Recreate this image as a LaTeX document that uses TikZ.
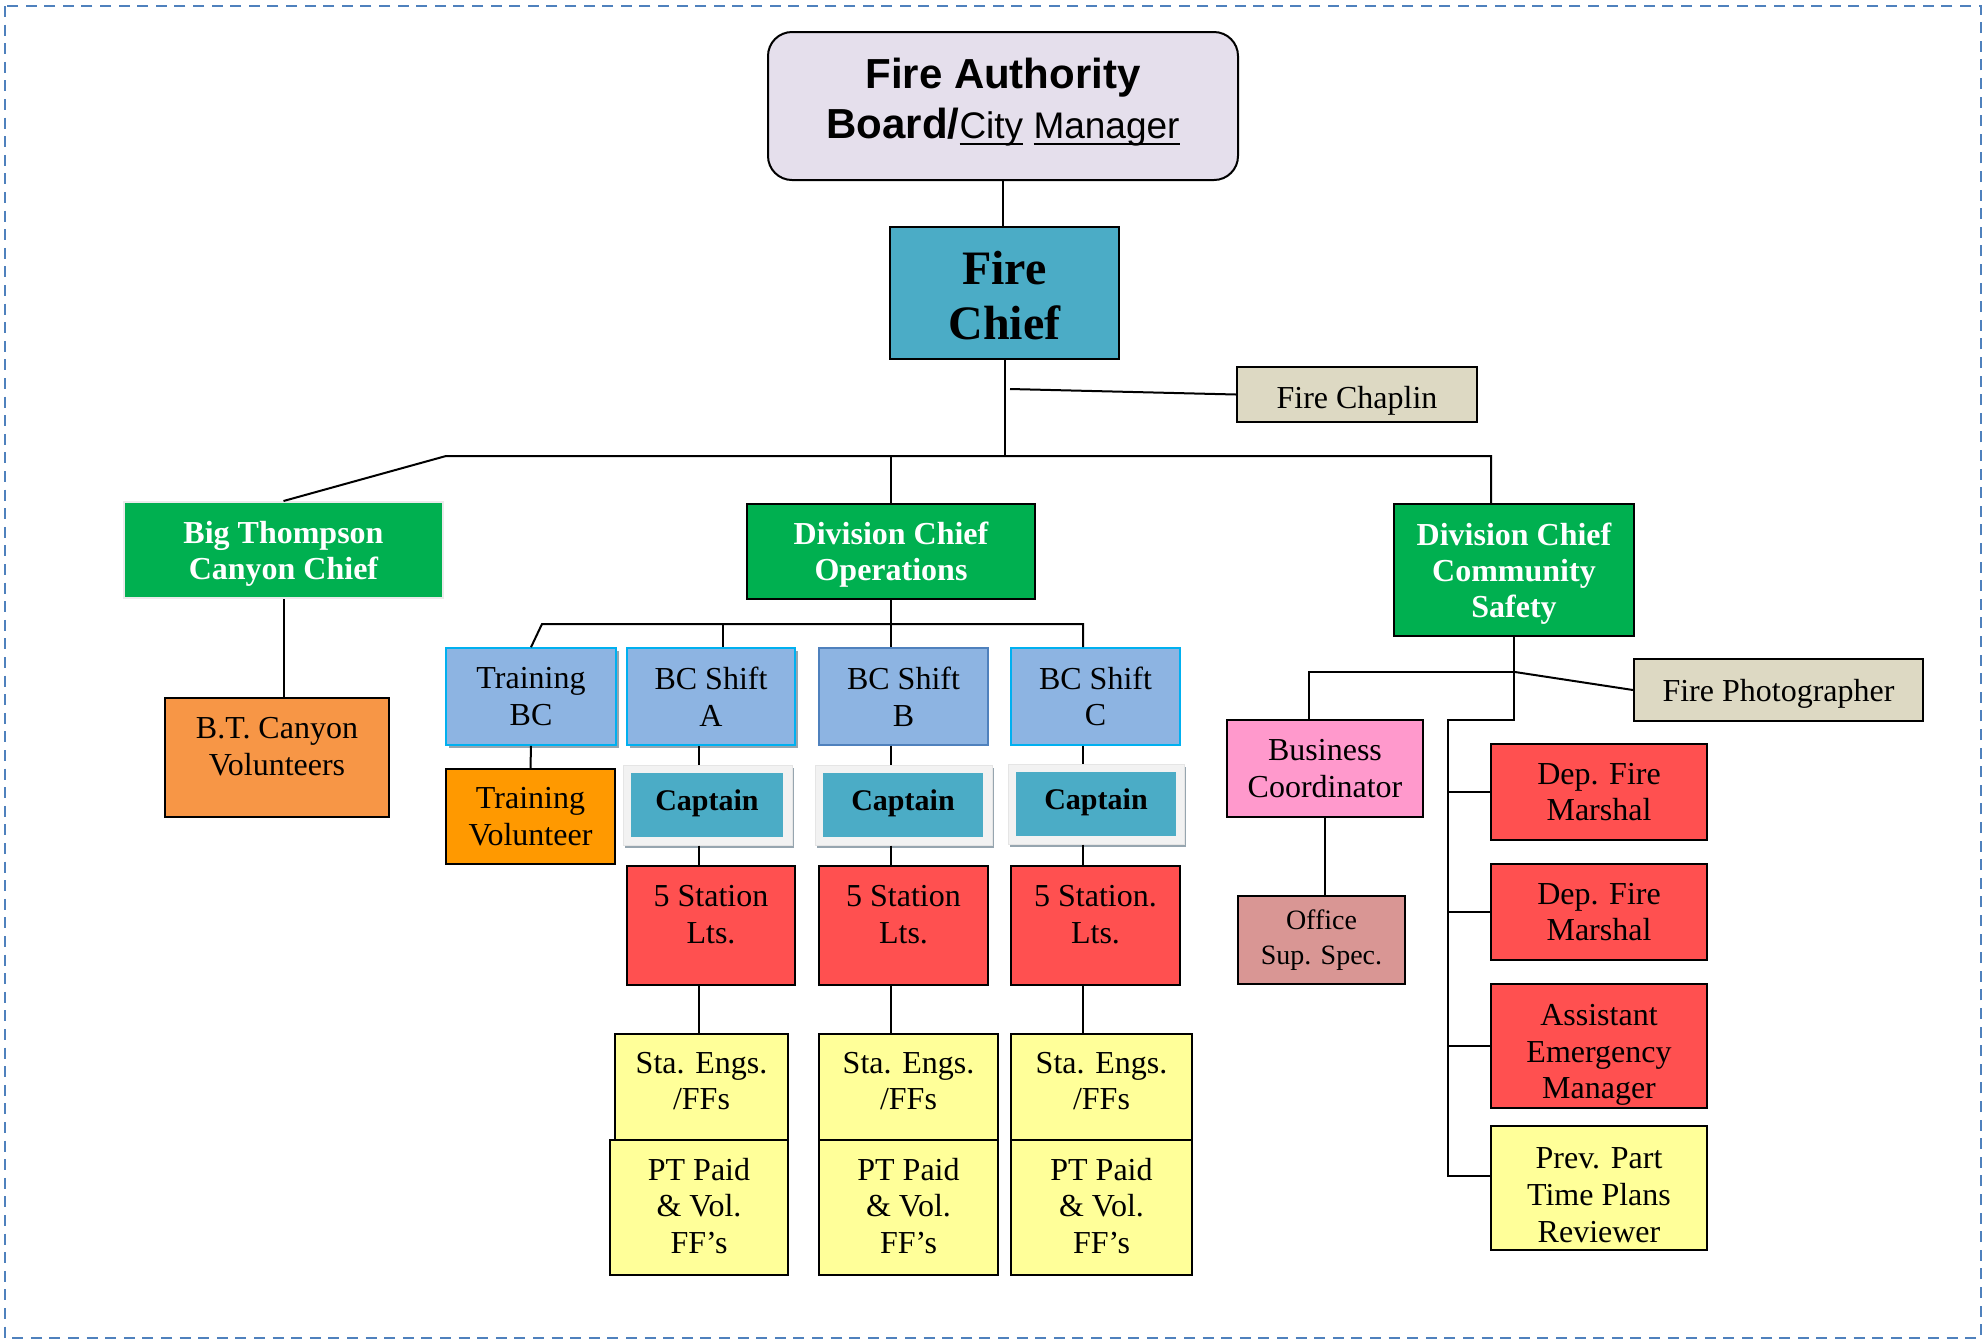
\documentclass[tikz,border=0pt]{standalone}
\usepackage{fontspec}
\setmainfont{Liberation Serif}
\newfontfamily\arialfont{Liberation Sans}
\usetikzlibrary{shadows}
\definecolor{lavender}{RGB}{229,223,236}
\definecolor{chiefteal}{RGB}{75,172,198}
\definecolor{beige}{RGB}{221,217,195}
\definecolor{dcgreen}{RGB}{0,176,80}
\definecolor{bcblue}{RGB}{141,180,226}
\definecolor{bcedge}{RGB}{0,176,240}
\definecolor{bcedgeb}{RGB}{79,129,189}
\definecolor{btorange}{RGB}{247,150,70}
\definecolor{trorange}{RGB}{255,153,0}
\definecolor{ltsred}{RGB}{255,80,80}
\definecolor{ffyellow}{RGB}{255,255,153}
\definecolor{bizpink}{RGB}{255,153,204}
\definecolor{officerose}{RGB}{217,150,148}
\definecolor{shadowc}{RGB}{150,165,175}
\definecolor{framec}{RGB}{79,129,189}
\newcommand{\boardline}[1]{\setbox0\hbox{#1}\rlap{\rule[-3.5pt]{\wd0}{1pt}}\box0\relax}
\newcommand{\toppad}[1]{\rule{0pt}{#1}}

\begin{document}
\begin{tikzpicture}[x=0.5pt,y=-0.5pt]
\tikzset{
  orgbox/.style={draw,line width=1pt,inner sep=1pt,align=center,font=\fontsize{16}{18.3}\selectfont},
  sz/.style 2 args={minimum width=#1pt,minimum height=#2pt},
  dcbox/.style={orgbox,fill=dcgreen,text=white,text depth=0pt,font=\fontsize{16}{18}\selectfont\bfseries},
  bcbox/.style={orgbox,fill=bcblue,draw=#1,line width=0.8pt},
  bcshadow/.style={drop shadow={shadow xshift=1.5pt,shadow yshift=-1.5pt,fill=shadowc,opacity=1}},
  capframe/.style={fill=black!5,draw=black!10,line width=0.5pt,minimum height=40pt,
    drop shadow={shadow xshift=1pt,shadow yshift=-1.5pt,fill=shadowc,opacity=1}},
  capbox/.style={fill=chiefteal,minimum height=32pt,inner sep=0pt,text depth=5pt,font=\fontsize{15}{18}\selectfont\bfseries},
  conn/.style={line width=1pt}
}
\useasboundingbox (0,0) rectangle (1986,1340);
\draw[framec,line width=1.2pt,dash pattern=on 5.5pt off 3.8pt] (5,6) rectangle (1981,1338);
% Top
\node[orgbox,fill=lavender,rounded corners=12pt,sz={235}{74},text depth=8pt,font=\arialfont\fontsize{21}{25}\selectfont\bfseries] (board) at (1003,106)
  {Fire Authority\\ Board/{\mdseries\fontsize{18.5}{25}\selectfont\boardline{City} \boardline{Manager}}};
\node[orgbox,fill=chiefteal,line width=1.4pt,sz={114.5}{66},font=\fontsize{24}{27.5}\selectfont\bfseries] (chief) at (1004.5,293) {\toppad{19.5pt}Fire\\ Chief};
\node[orgbox,fill=beige,sz={120}{27.5},text depth=0pt] (chaplin) at (1357,394.5) {\toppad{13.5pt}Fire Chaplin};
% Divisions
\node[dcbox,draw=black!8,sz={159.5}{48}] (btchief) at (283.5,550) {Big Thompson\\ Canyon Chief};
\node[orgbox,fill=btorange,sz={112}{59.5},text depth=11pt] (btvol) at (277,757.5) {B.T. Canyon\\ Volunteers};
\node[dcbox,sz={144}{47.5}] (dcops) at (891,551.5) {Division Chief\\ Operations};
\node[dcbox,sz={120}{66}] (dccs) at (1514,570) {Division Chief\\ Community\\ Safety};
% Operations
\node[bcbox=bcedge,bcshadow,sz={85}{48.5}] (trainbc) at (531,696.5) {Training\\ BC};
\node[bcbox=bcedge,bcshadow,sz={84}{48.5}] (bca) at (711,696.5) {BC Shift\\ A};
\node[bcbox=bcedgeb,sz={84.5}{48.5}] (bcb) at (903.5,696.5) {BC Shift\\ B};
\node[bcbox=bcedge,sz={84.5}{48.5}] (bcc) at (1095.5,696.5) {BC Shift\\ C};
\node[orgbox,fill=trorange,sz={84.5}{47.5}] (trainvol) at (530.5,816.5) {Training\\ Volunteer};
\node[capframe,minimum width=84.5pt] (capfa) at (707.5,805) {};
\node[capbox,minimum width=76pt] (capa) at (707,805) {Captain};
\node[capframe,minimum width=88.5pt] (capfb) at (903.5,805) {};
\node[capbox,minimum width=80pt] (capb) at (903,805) {Captain};
\node[capframe,minimum width=88pt] (capfc) at (1096,804) {};
\node[capbox,minimum width=80pt] (capc) at (1096,804) {Captain};
\node[orgbox,fill=ltsred,sz={84}{59.5},text depth=11pt] (ltsa) at (711,925.5) {5 Station\\ Lts.};
\node[orgbox,fill=ltsred,sz={84.5}{59.5},text depth=11pt] (ltsb) at (903.5,925.5) {5 Station\\ Lts.};
\node[orgbox,fill=ltsred,sz={84.5}{59.5},text depth=11pt] (ltsc) at (1095.5,925.5) {5 Station.\\ Lts.};
\node[orgbox,fill=ffyellow,sz={86.5}{53},text depth=6pt] (engsa) at (701.5,1087) {Sta. Engs.\\ /FFs};
\node[orgbox,fill=ffyellow,sz={89.5}{53},text depth=6pt] (engsb) at (908.5,1087) {Sta. Engs.\\ /FFs};
\node[orgbox,fill=ffyellow,sz={90.5}{53},text depth=6pt] (engsc) at (1101.5,1087) {Sta. Engs.\\ /FFs};
\node[orgbox,fill=ffyellow,sz={89}{67.5},text depth=2pt] (pta) at (699,1207.5) {PT Paid\\ \& Vol.\\ FF’s};
\node[orgbox,fill=ffyellow,sz={89.5}{67.5},text depth=2pt] (ptb) at (908.5,1207.5) {PT Paid\\ \& Vol.\\ FF’s};
\node[orgbox,fill=ffyellow,sz={90.5}{67.5},text depth=2pt] (ptc) at (1101.5,1207.5) {PT Paid\\ \& Vol.\\ FF’s};
% Community safety
\node[orgbox,fill=beige,sz={144.5}{31},text depth=0pt] (photo) at (1778.5,690) {Fire Photographer};
\node[orgbox,fill=bizpink,sz={98}{48.5}] (busco) at (1325,768.5) {Business\\ Coordinator};
\node[orgbox,fill=officerose,sz={83.5}{44},font=\fontsize{14}{17.7}\selectfont] (office) at (1321.5,940) {Office\\ Sup. Spec.};
\node[orgbox,fill=ltsred,sz={108}{48}] (dfm1) at (1599,792) {Dep. Fire\\ Marshal};
\node[orgbox,fill=ltsred,sz={108}{48}] (dfm2) at (1599,912) {Dep. Fire\\ Marshal};
\node[orgbox,fill=ltsred,sz={108}{62},text depth=0pt] (aem) at (1599,1046) {\toppad{16pt}Assistant\\ Emergency\\ Manager};
\node[orgbox,fill=ffyellow,sz={108}{62},text depth=0pt] (prev) at (1599,1188) {\toppad{17.5pt}Prev. Part\\ Time Plans\\ Reviewer};
% Lines
\coordinate (busL) at (446,456);
\coordinate (busR) at (1491,456);
\coordinate (chapJ) at (1010,389);
\draw[conn] (board.south) -- (board.south |- chief.north);
\draw[conn] (chief.south) -- (chief.south |- busL);
\draw[conn] (chapJ) -- (chaplin.west);
\draw[conn] (btchief.north) -- (busL) -- (busR) -- (busR |- dccs.north);
\draw[conn] (dcops.north) -- (dcops.north |- busL);
\draw[conn] (btchief.south) -- (btchief.south |- btvol.north);
\coordinate (opsL) at (542,624);
\coordinate (opsR) at (1083,624);
\coordinate (opsA) at (723,624);
\draw[conn] (trainbc.north) -- (opsL) -- (opsR) -- (opsR |- bcc.north);
\draw[conn] (dcops.south) -- (dcops.south |- bcb.north);
\draw[conn] (opsA) -- (opsA |- bca.north);
\draw[conn] (trainbc.south) -- (trainvol.north);
\coordinate (colA) at (699,0);
\coordinate (colB) at (891,0);
\coordinate (colC) at (1083,0);
\draw[conn] (colA |- bca.south) -- (colA |- capfa.north);
\draw[conn] (colA |- capfa.south) -- (colA |- ltsa.north);
\draw[conn] (colA |- ltsa.south) -- (colA |- engsa.north);
\draw[conn] (colB |- bcb.south) -- (colB |- capfb.north);
\draw[conn] (colB |- capfb.south) -- (colB |- ltsb.north);
\draw[conn] (colB |- ltsb.south) -- (colB |- engsb.north);
\draw[conn] (colC |- bcc.south) -- (colC |- capfc.north);
\draw[conn] (colC |- capfc.south) -- (colC |- ltsc.north);
\draw[conn] (colC |- ltsc.south) -- (colC |- engsc.north);
\coordinate (csJ) at (1515,672);
\coordinate (csL) at (1309,672);
\coordinate (spine) at (1448,720);
\draw[conn] (dccs.south) -- (dccs.south |- spine) -- (spine) -- (spine |- 0,1176) -- (prev.west |- 0,1176);
\draw[conn] (csJ) -- (csL) -- (csL |- busco.north);
\draw[conn] (csJ) -- (photo.west);
\draw[conn] (busco.south) -- (busco.south |- office.north);
\draw[conn] (spine |- dfm1.west) -- (dfm1.west);
\draw[conn] (spine |- dfm2.west) -- (dfm2.west);
\draw[conn] (spine |- aem.west) -- (aem.west);
\end{tikzpicture}
\end{document}
